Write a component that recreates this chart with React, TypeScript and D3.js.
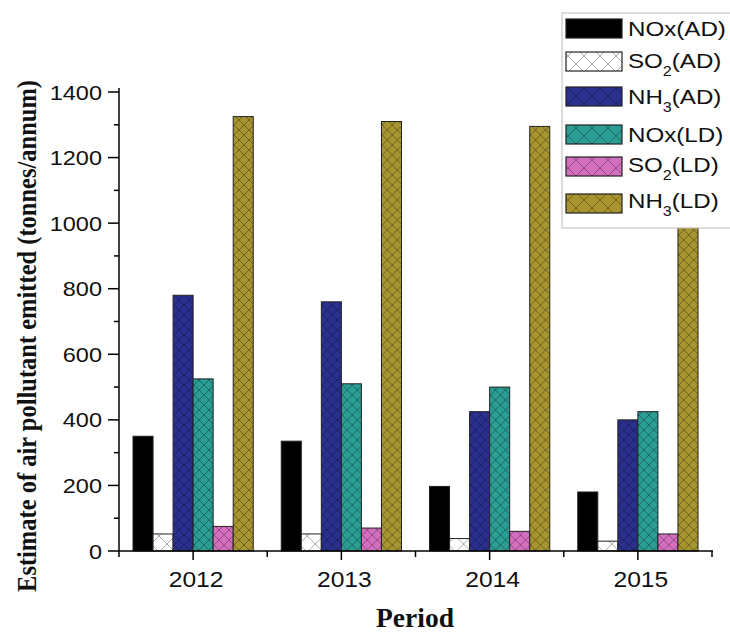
import React from "react";
import * as d3 from "d3";

const years = ["2012", "2013", "2014", "2015"];
const seriesNames = ["NOx(AD)", "SO2(AD)", "NH3(AD)", "NOx(LD)", "SO2(LD)", "NH3(LD)"];
const noxAD = [350, 335, 197, 180];
const so2AD = [52, 52, 38, 30];
const nh3AD = [780, 760, 425, 400];
const noxLD = [525, 510, 500, 425];
const so2LD = [75, 70, 60, 52];
const nh3LD = [1325, 1310, 1295, 1280];
const yTicks = [0, 200, 400, 600, 800, 1000, 1200, 1400];

const seriesValues = [noxAD, so2AD, nh3AD, noxLD, so2LD, nh3LD];
const fills = ["#000000", "#ffffff", "#2b2f8e", "#2a9d95", "#d46fbf", "#a8952f"];
const hatch = [null, "#8a8a8a", "#151a55", "#15554f", "#7a3a6e", "#5a4f15"];

const W = 730, H = 633;
const M = { left: 119, right: 712, top: 92, bottom: 551 };
const SX = 1.12;

export default function App() {
  const x0 = d3.scaleBand<string>().domain(years).range([M.left, M.right]).paddingInner(0).paddingOuter(0);
  const x1 = d3.scaleBand<number>().domain(d3.range(6)).range([14, x0.bandwidth() - 14]).padding(0);
  const y = d3.scaleLinear().domain([0, 1400]).range([M.bottom, M.top]);
  const minor = d3.range(100, 1400, 200);
  const sans = "'Liberation Sans', Arial, Helvetica, sans-serif";
  const serif = "'Liberation Serif', 'Times New Roman', serif";

  const legendBase = [36, 68, 104, 142, 172, 208];
  const legendSwatch = [19, 52, 87, 125, 157, 194];
  const legendLabel = (name: string) => {
    const m = name.match(/^(SO|NH)(\d)(.*)$/);
    if (!m) return <tspan>{name}</tspan>;
    return (
      <>
        <tspan>{m[1]}</tspan>
        <tspan dy={8} fontSize={14}>{m[2]}</tspan>
        <tspan dy={-8}>{m[3]}</tspan>
      </>
    );
  };

  const pat = (id: string, i: number, s: number) => (
    <pattern key={id} id={id} patternUnits="userSpaceOnUse" width={s} height={s}>
      <rect width={s} height={s} fill={fills[i]} />
      <path d={`M0,0 L${s},${s} M${s},0 L0,${s}`} stroke={hatch[i]!} strokeWidth={0.9} opacity={0.8} />
    </pattern>
  );

  return (
    <svg width={W} height={H} style={{ position: "absolute", left: 0, top: 0, background: "#fff" }}>
      <defs>
        {fills.map((f, i) => (hatch[i] ? pat(`p${i}`, i, i === 1 ? 16 : 10) : null))}
        {fills.map((f, i) => (hatch[i] ? pat(`l${i}`, i, 16) : null))}
      </defs>

      {/* bars */}
      {years.map((yr, gi) => (
        <g key={yr} transform={`translate(${x0(yr)},0)`}>
          {seriesValues.map((vals, si) => (
            <rect
              key={si}
              x={x1(si)}
              y={y(vals[gi])}
              width={x1.bandwidth()}
              height={y(0) - y(vals[gi])}
              fill={hatch[si] ? `url(#p${si})` : fills[si]}
              stroke="#222"
              strokeWidth={1}
            />
          ))}
        </g>
      ))}

      {/* y axis */}
      <line x1={M.left} x2={M.left} y1={M.top - 4} y2={M.bottom} stroke="#000" strokeWidth={1.5} />
      {yTicks.map((t) => (
        <g key={t}>
          <line x1={M.left - 11} x2={M.left} y1={y(t)} y2={y(t)} stroke="#000" strokeWidth={1.5} />
          <text
            transform={`translate(${M.left - 17},${y(t)}) scale(${SX},1)`}
            dy="0.36em"
            textAnchor="end"
            fontFamily={sans}
            fontSize={21}
            fill="#111"
          >
            {t}
          </text>
        </g>
      ))}
      {minor.map((t) => (
        <line key={t} x1={M.left - 5} x2={M.left} y1={y(t)} y2={y(t)} stroke="#000" strokeWidth={1.5} />
      ))}

      {/* x axis */}
      <line x1={M.left} x2={M.right + 1} y1={M.bottom} y2={M.bottom} stroke="#000" strokeWidth={1.5} />
      {years.map((yr) => {
        const cx = x0(yr)! + x0.bandwidth() / 2;
        return (
          <g key={yr}>
            <line x1={cx} x2={cx} y1={M.bottom} y2={M.bottom + 9} stroke="#000" strokeWidth={1.5} />
            <text
              transform={`translate(${cx + 3},${M.bottom + 36}) scale(${SX},1)`}
              textAnchor="middle"
              fontFamily={sans}
              fontSize={22}
              fill="#111"
            >
              {yr}
            </text>
          </g>
        );
      })}
      {d3.range(years.length + 1).map((i) => {
        const xx = M.left + i * x0.step();
        return <line key={i} x1={xx} x2={xx} y1={M.bottom} y2={M.bottom + 6} stroke="#000" strokeWidth={1.5} />;
      })}

      {/* axis titles */}
      <text x={415} y={627} textAnchor="middle" fontFamily={serif} fontWeight="bold" fontSize={27.5} fill="#111">
        Period
      </text>
      <text
        transform={`translate(36,336) rotate(-90) scale(1,1.1)`}
        textAnchor="middle"
        fontFamily={serif}
        fontWeight="bold"
        fontSize={24.5}
        fill="#111"
      >
        Estimate of air pollutant emitted (tonnes/annum)
      </text>

      {/* legend */}
      <rect x={562} y={13} width={175} height={215} fill="#fff" stroke="#bbb" strokeWidth={1} />
      {seriesNames.map((name, i) => (
        <g key={name}>
          <rect
            x={566}
            y={legendSwatch[i]}
            width={56}
            height={19}
            fill={hatch[i] ? `url(#l${i})` : fills[i]}
            stroke="#222"
            strokeWidth={1.2}
          />
          <text
            transform={`translate(628,${legendBase[i]}) scale(1.15,1)`}
            fontFamily={sans}
            fontSize={21}
            fill="#111"
          >
            {legendLabel(name)}
          </text>
        </g>
      ))}
    </svg>
  );
}
